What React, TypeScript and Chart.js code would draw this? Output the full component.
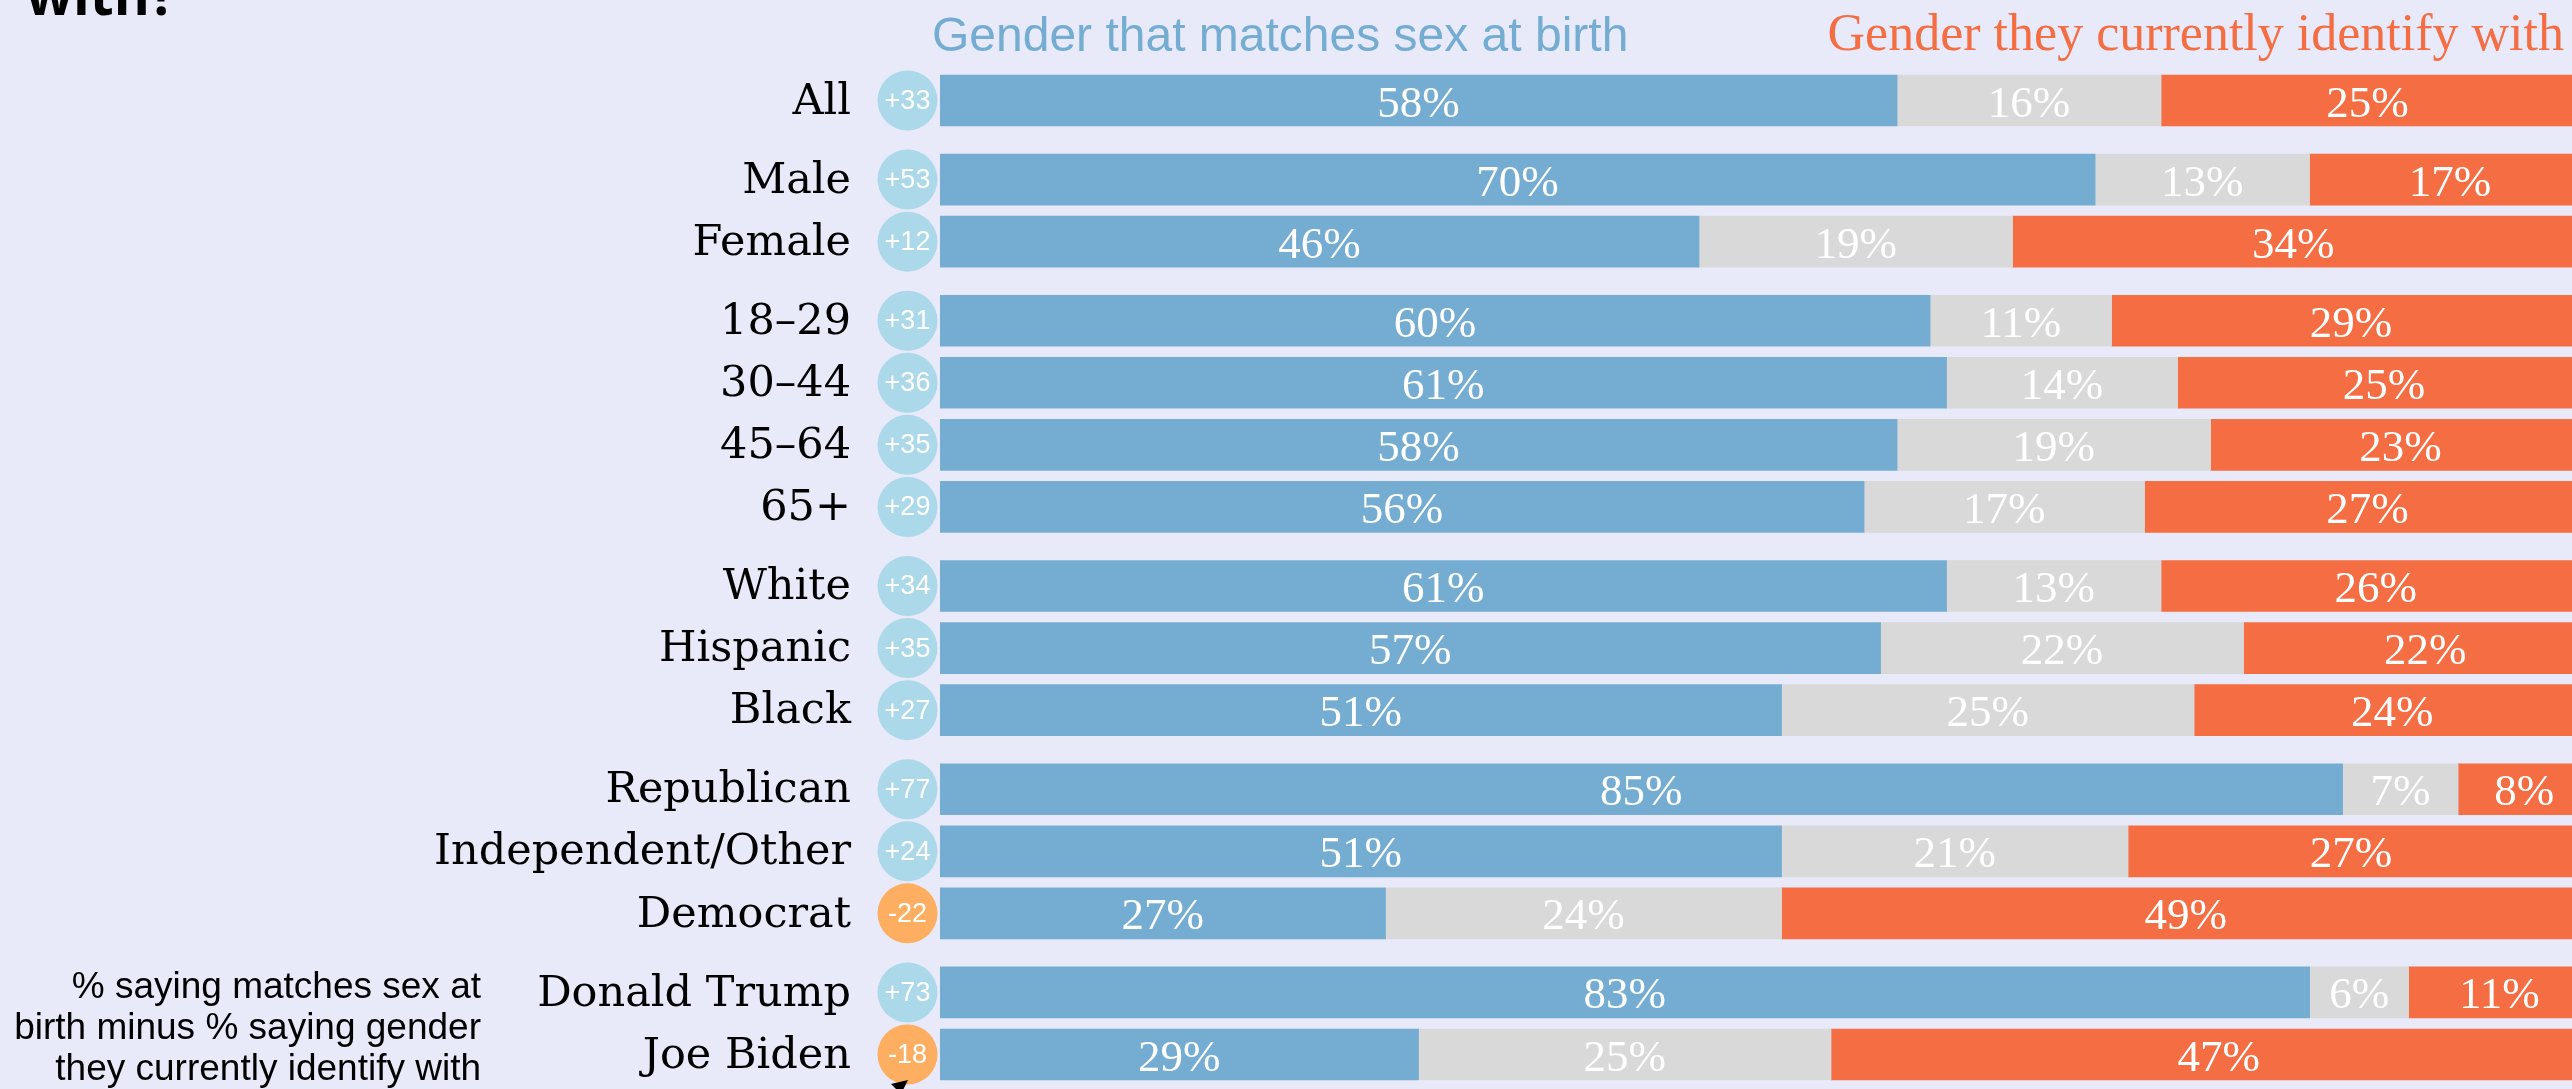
import { useEffect, useRef } from "react";
import { Chart, registerables } from "chart.js";

Chart.register(...registerables);

// ---------- data ----------
const categories = [
  "All",
  "Male",
  "Female",
  "18–29",
  "30–44",
  "45–64",
  "65+",
  "White",
  "Hispanic",
  "Black",
  "Republican",
  "Independent/Other",
  "Democrat",
  "Donald Trump",
  "Joe Biden",
];
const groupIndex = [0, 1, 1, 2, 2, 2, 2, 3, 3, 3, 4, 4, 4, 5, 5];
const matchesSexAtBirth = [58, 70, 46, 60, 61, 58, 56, 61, 57, 51, 85, 51, 27, 83, 29];
const notSure = [16, 13, 19, 11, 14, 19, 17, 13, 22, 25, 7, 21, 24, 6, 25];
const currentlyIdentify = [25, 17, 34, 29, 25, 23, 27, 26, 22, 24, 8, 27, 49, 11, 47];
const netDifference = [33, 53, 12, 31, 36, 35, 29, 34, 35, 27, 77, 24, -22, 73, -18];

const seriesNames = ["Gender that matches sex at birth", "Not sure", "Gender they currently identify with"];
const titleTail = "with?";
const noteLines = [
  "% saying matches sex at",
  "birth minus % saying gender",
  "they currently identify with",
];

// ---------- styling / layout constants ----------
const W = 2572;
const H = 1089;
const BG = "#e8eafa";
const BLUE = "#74add1";
const GRAY = "#d9d9d9";
const ORANGE = "#f46d43";
const CIRCLE_POS = "#abd9e9";
const CIRCLE_NEG = "#fdae61";
const GROUP_GAP = 0.274;
const PX_PER_ROW = 62.07;
const FIRST_ROW_PX = 100.5;
const CHART_LEFT = 940;
const X_MAX = 98.9;

const positions = categories.map((_, i) => i + groupIndex[i] * GROUP_GAP);
const yMin = -FIRST_ROW_PX / PX_PER_ROW;
const yMax = yMin + H / PX_PER_ROW;

const decoPlugin = {
  id: "deco",
  beforeDraw(chart: any) {
    const ctx = chart.ctx;
    ctx.save();
    ctx.fillStyle = BG;
    ctx.fillRect(0, 0, chart.width, chart.height);
    ctx.restore();
  },
  afterDatasetsDraw(chart: any) {
    const ctx = chart.ctx;
    const yScale = chart.scales.y;
    const area = chart.chartArea;
    ctx.save();

    // value labels
    ctx.fillStyle = "#ffffff";
    ctx.font = "45px 'Liberation Serif'";
    ctx.textAlign = "center";
    ctx.textBaseline = "alphabetic";
    chart.data.datasets.forEach((ds: any, di: number) => {
      const meta = chart.getDatasetMeta(di);
      meta.data.forEach((bar: any, i: number) => {
        const v = ds.data[i].x;
        const cx = (bar.x + bar.base) / 2;
        ctx.fillText(v + "%", cx, bar.y + 16);
      });
    });

    // net difference circles
    positions.forEach((p, i) => {
      const cy = yScale.getPixelForValue(p);
      const cx = area.left - 32.5;
      const n = netDifference[i];
      ctx.beginPath();
      ctx.arc(cx, cy, 30, 0, Math.PI * 2);
      ctx.fillStyle = n >= 0 ? CIRCLE_POS : CIRCLE_NEG;
      ctx.fill();
      ctx.fillStyle = "#ffffff";
      ctx.font = "27px 'Liberation Sans'";
      ctx.textAlign = "center";
      ctx.textBaseline = "middle";
      ctx.fillText((n > 0 ? "+" : "") + n, cx, cy + 1);
    });

    // header labels
    ctx.textBaseline = "alphabetic";
    ctx.textAlign = "left";
    ctx.fillStyle = BLUE;
    ctx.font = "48px 'Liberation Sans'";
    ctx.fillText(seriesNames[0], 932, 51);
    ctx.textAlign = "right";
    ctx.fillStyle = ORANGE;
    ctx.font = "52px 'Liberation Serif'";
    ctx.fillText(seriesNames[2], 2564, 50);

    // cropped title
    ctx.textAlign = "left";
    ctx.fillStyle = "#000000";
    ctx.font = "bold 55px 'Open Sans'";
    ctx.fillText(titleTail, 26, 15);

    // note
    ctx.textAlign = "right";
    ctx.font = "37px 'Liberation Sans'";
    noteLines.forEach((line, k) => ctx.fillText(line, 481, 998 + k * 41));

    // arrow head
    ctx.beginPath();
    ctx.moveTo(891, 1084);
    ctx.lineTo(908, 1080);
    ctx.lineTo(901, 1094);
    ctx.closePath();
    ctx.fillStyle = "#000000";
    ctx.fill();

    ctx.restore();
  },
};

export default function App() {
  const ref = useRef<HTMLCanvasElement | null>(null);

  useEffect(() => {
    document.body.style.margin = "0";
    const canvas = ref.current;
    if (!canvas) return;
    const mk = (vals: number[]) => vals.map((v, i) => ({ x: v, y: positions[i] }));
    const chart = new Chart(canvas, {
      type: "bar",
      data: {
        datasets: [
          { label: seriesNames[0], data: mk(matchesSexAtBirth), backgroundColor: BLUE },
          { label: seriesNames[1], data: mk(notSure), backgroundColor: GRAY },
          { label: seriesNames[2], data: mk(currentlyIdentify), backgroundColor: ORANGE },
        ] as any,
      },
      options: {
        animation: false,
        responsive: true,
        maintainAspectRatio: false,
        indexAxis: "y",
        layout: { padding: 0 },
        datasets: { bar: { barThickness: 51, borderWidth: 0 } } as any,
        plugins: {
          legend: { display: false },
          tooltip: { enabled: false },
          title: { display: false },
        },
        scales: {
          x: {
            type: "linear",
            stacked: true,
            min: 0,
            max: X_MAX,
            display: false,
          },
          y: {
            type: "linear",
            stacked: true,
            reverse: true,
            offset: false,
            grace: 0,
            min: yMin,
            max: yMax,
            grid: { display: false, offset: false, drawTicks: true, tickLength: 89 },
            border: { display: false },
            afterBuildTicks: (scale: any) => {
              scale.ticks = positions.map((v) => ({ value: v }));
            },
            afterFit: (scale: any) => {
              scale.width = CHART_LEFT;
              scale.paddingTop = 0;
              scale.paddingBottom = 0;
            },
            ticks: {
              autoSkip: false,
              padding: 0,
              labelOffset: 2,
              color: "#000000",
              font: { family: "'DejaVu Serif'", size: 43 },
              callback: (_v: any, i: number) => categories[i],
            },
          },
        } as any,
      },
      plugins: [decoPlugin],
    });
    return () => chart.destroy();
  }, []);

  return (
    <div style={{ position: "fixed", left: 0, top: 0, width: W + "px", height: H + "px", background: BG }}>
      <canvas ref={ref} />
    </div>
  );
}
